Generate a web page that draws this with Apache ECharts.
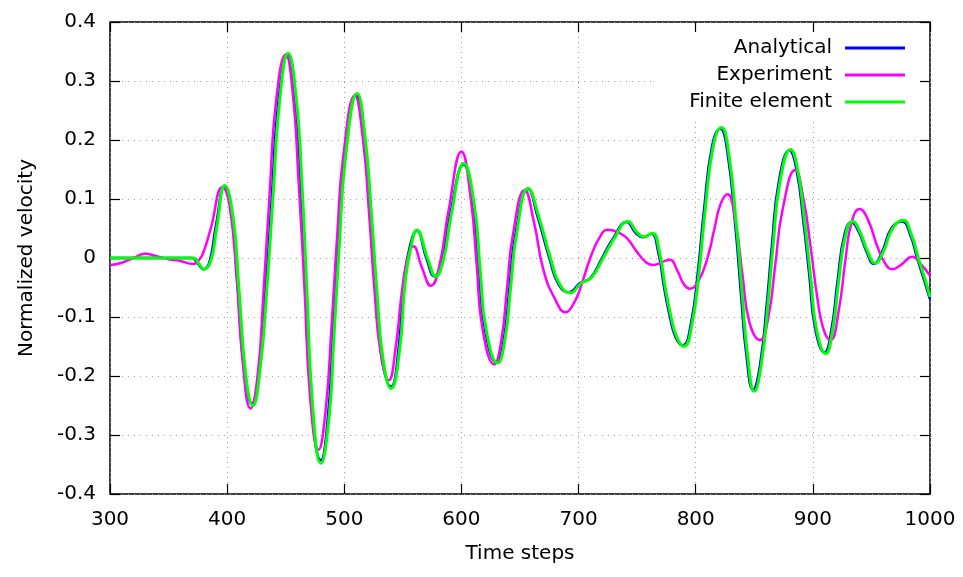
<!DOCTYPE html>
<html>
<head>
<meta charset="utf-8">
<script src="https://cdn.jsdelivr.net/npm/echarts@6/dist/echarts.min.js"></script>
<style>html,body{margin:0;padding:0;background:#fff}#c{width:963px;height:577px}</style>
</head>
<body>
<div id="c"></div>
<script>
const xTicks = [300, 400, 500, 600, 700, 800, 900, 1000];
const yTicks = [-0.4, -0.3, -0.2, -0.1, 0, 0.1, 0.2, 0.3, 0.4];
const seriesNames = ['Analytical', 'Experiment', 'Finite element'];

const analytical = [[300,0],[370,0],[375,-0.01],[380,-0.019],[385,-0.006],[390,0.05],[398,0.122],[404,0.07],[409,-0.05],[415,-0.2],[421,-0.247],[427,-0.19],[433,-0.05],[438,0.1],[444,0.27],[452,0.345],[458,0.27],[463,0.12],[467,-0.05],[472,-0.25],[480,-0.343],[486,-0.27],[490,-0.14],[495,0.03],[500,0.17],[510,0.277],[517,0.2],[522,0.08],[527,-0.06],[532,-0.17],[540,-0.218],[546,-0.16],[551,-0.04],[556,0.02],[562,0.046],[570,0.0],[577,-0.031],[584,0.0],[590,0.07],[602,0.158],[610,0.09],[615,-0.02],[620,-0.12],[630,-0.177],[636,-0.14],[641,-0.05],[646,0.04],[657,0.117],[665,0.07],[675,0.0],[683,-0.045],[692,-0.058],[701,-0.043],[710,-0.034],[720,0.0],[730,0.035],[741,0.061],[749,0.042],[755,0.035],[762,0.041],[768,0.01],[773,-0.05],[778,-0.1],[783,-0.135],[789,-0.148],[796,-0.11],[802,-0.02],[807,0.08],[814,0.19],[821,0.219],[827,0.18],[834,0.05],[839,-0.07],[843,-0.16],[849,-0.223],[855,-0.18],[861,-0.07],[865,0.02],[871,0.13],[880,0.182],[886,0.15],[892,0.06],[897,-0.03],[902,-0.12],[910,-0.16],[916,-0.12],[921,-0.04],[927,0.04],[933,0.06],[939,0.045],[946,0.01],[952,-0.01],[959,0.01],[967,0.05],[976,0.062],[983,0.04],[989,0.0],[995,-0.038],[1000,-0.07]];

const experiment = [[300,-0.012],[310,-0.008],[320,0.0],[330,0.007],[340,0.003],[350,-0.002],[360,-0.005],[371,-0.01],[375,-0.005],[379,0.006],[386,0.05],[396,0.12],[402,0.09],[408,-0.03],[413,-0.17],[420,-0.255],[426,-0.2],[431,-0.06],[436,0.1],[442,0.27],[450,0.345],[456,0.28],[461,0.13],[466,-0.05],[471,-0.24],[478,-0.325],[484,-0.26],[489,-0.12],[494,0.04],[499,0.17],[509,0.275],[516,0.2],[521,0.08],[526,-0.06],[531,-0.16],[538,-0.207],[544,-0.15],[549,-0.06],[554,0.0],[559,0.02],[566,-0.015],[574,-0.047],[581,-0.015],[589,0.08],[600,0.18],[608,0.1],[613,-0.01],[618,-0.12],[628,-0.18],[634,-0.14],[639,-0.05],[644,0.04],[654,0.115],[662,0.06],[670,-0.02],[680,-0.07],[689,-0.092],[695,-0.08],[701,-0.054],[710,0.0],[718,0.035],[725,0.048],[733,0.044],[741,0.034],[750,0.01],[758,-0.008],[764,-0.012],[771,-0.007],[778,-0.003],[784,-0.02],[790,-0.045],[795,-0.052],[802,-0.04],[810,0.0],[816,0.05],[821,0.09],[827,0.108],[834,0.06],[840,-0.03],[846,-0.11],[855,-0.139],[862,-0.1],[868,-0.01],[874,0.08],[885,0.149],[892,0.1],[898,0.02],[904,-0.07],[909,-0.12],[915,-0.139],[922,-0.09],[928,0.0],[933,0.06],[940,0.083],[947,0.065],[955,0.02],[962,-0.01],[968,-0.019],[975,-0.012],[985,0.002],[992,-0.01],[1000,-0.03]];

const finiteElement = [[300,0],[371,0],[376,-0.01],[380,-0.019],[386,-0.005],[391,0.05],[398,0.123],[405,0.07],[410,-0.05],[416,-0.2],[422,-0.25],[428,-0.19],[434,-0.05],[439,0.1],[445,0.27],[452,0.347],[459,0.27],[464,0.12],[468,-0.05],[473,-0.25],[480,-0.348],[487,-0.27],[491,-0.14],[496,0.03],[501,0.17],[511,0.279],[518,0.2],[523,0.08],[528,-0.06],[533,-0.17],[540,-0.221],[547,-0.16],[552,-0.04],[557,0.02],[562,0.047],[571,0.0],[578,-0.031],[585,0.0],[591,0.07],[602,0.16],[611,0.09],[616,-0.02],[621,-0.12],[631,-0.178],[637,-0.14],[642,-0.05],[647,0.04],[657,0.118],[666,0.07],[676,0.0],[684,-0.045],[693,-0.059],[702,-0.043],[711,-0.033],[721,0.0],[731,0.035],[742,0.062],[750,0.043],[756,0.036],[763,0.042],[769,0.01],[774,-0.05],[779,-0.1],[784,-0.135],[790,-0.15],[797,-0.11],[803,-0.02],[808,0.08],[815,0.19],[822,0.221],[828,0.18],[835,0.05],[840,-0.07],[844,-0.16],[850,-0.226],[856,-0.18],[862,-0.07],[866,0.02],[872,0.13],[881,0.184],[887,0.15],[893,0.06],[898,-0.03],[903,-0.12],[911,-0.162],[917,-0.12],[922,-0.04],[928,0.04],[934,0.062],[940,0.045],[947,0.01],[953,-0.009],[960,0.01],[968,0.05],[977,0.064],[984,0.04],[990,0.0],[996,-0.038],[1000,-0.066]];

const colors = ['#0000ff', '#ff00ff', '#00ff00'];
const FONT = 'DejaVu Sans';

const chart = echarts.init(document.getElementById('c'), null, {renderer: 'canvas'});
const xMin = xTicks[0], xMax = xTicks[xTicks.length - 1];
const yMin = yTicks[0], yMax = yTicks[yTicks.length - 1];
const fmtY = v => { const r = Math.round(v * 10) / 10; return r === 0 ? '0' : r.toFixed(1); };
const fmtX = v => String(Math.round(v));

const baseX = {type: 'value', min: xMin, max: xMax, interval: 100};
const baseY = {type: 'value', min: yMin, max: yMax, interval: 0.1};
const tick = {show: true, inside: true, length: 10, lineStyle: {color: '#000', width: 1.2}};

chart.setOption({
  animation: false,
  backgroundColor: '#fff',
  textStyle: {fontFamily: FONT},
  grid: {left: 110, right: 33, top: 22, bottom: 83, show: true, borderColor: '#000', borderWidth: 1.5, backgroundColor: 'transparent'},
  legend: {
    data: seriesNames.map(n => ({name: n, icon: 'rect'})),
    orient: 'vertical',
    align: 'right',
    right: 34,
    top: 23,
    padding: [15, 24, 6, 34],
    backgroundColor: '#fff',
    itemWidth: 60,
    itemHeight: 3,
    itemGap: 7,
    textStyle: {fontFamily: FONT, fontSize: 20, color: '#000', lineHeight: 20, padding: [0, 8, 0, 0]},
    z: 4
  },
  xAxis: [
    Object.assign({}, baseX, {
      position: 'bottom',
      name: 'Time steps', nameLocation: 'middle', nameGap: 50,
      nameTextStyle: {fontFamily: FONT, fontSize: 20, color: '#000'},
      axisLine: {show: false, onZero: false},
      axisTick: tick,
      axisLabel: {fontFamily: FONT, fontSize: 20, color: '#000', margin: 16, formatter: fmtX},
      splitLine: {show: true, lineStyle: {color: '#a0a0a0', width: 1, type: [1, 4]}},
      z: 0
    }),
    Object.assign({}, baseX, {
      position: 'top',
      axisLine: {show: false, onZero: false},
      axisTick: tick,
      axisLabel: {show: false},
      splitLine: {show: false},
      z: 6
    })
  ],
  yAxis: [
    Object.assign({}, baseY, {
      position: 'left',
      name: 'Normalized velocity', nameLocation: 'middle', nameGap: 73, nameRotate: 90,
      nameTextStyle: {fontFamily: FONT, fontSize: 20, color: '#000'},
      axisLine: {show: false, onZero: false},
      axisTick: tick,
      axisLabel: {fontFamily: FONT, fontSize: 20, color: '#000', margin: 14, formatter: fmtY},
      splitLine: {show: true, lineStyle: {color: '#a0a0a0', width: 1, type: [1, 5]}},
      z: 0
    }),
    Object.assign({}, baseY, {
      position: 'right',
      axisLine: {show: false, onZero: false},
      axisTick: tick,
      axisLabel: {show: false},
      splitLine: {show: false},
      z: 6
    })
  ],
  series: [
    {name: seriesNames[0], type: 'line', data: analytical, smooth: 0.5, symbol: 'none', color: colors[0], lineStyle: {width: 2.5, color: colors[0]}, z: 2},
    {name: seriesNames[1], type: 'line', data: experiment, smooth: 0.5, symbol: 'none', color: colors[1], lineStyle: {width: 2.5, color: colors[1]}, z: 2},
    {name: seriesNames[2], type: 'line', data: finiteElement, smooth: 0.5, symbol: 'none', color: colors[2], lineStyle: {width: 3, color: colors[2]}, z: 2}
  ]
});
</script>
</body>
</html>
